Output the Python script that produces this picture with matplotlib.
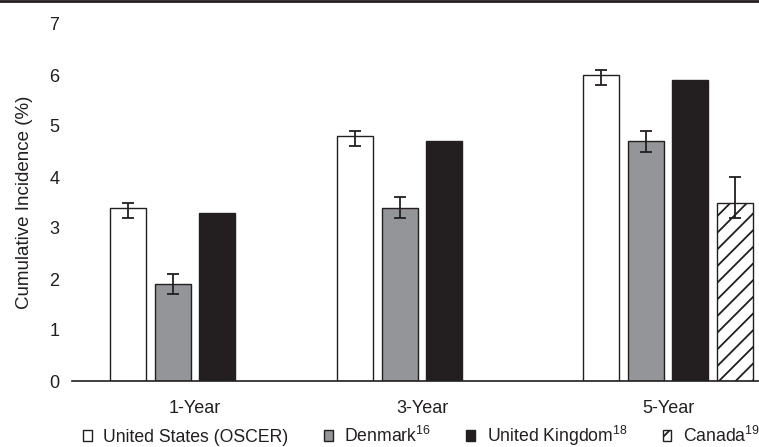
import matplotlib
matplotlib.use("Agg")
import matplotlib.pyplot as plt
import numpy as np
from matplotlib.lines import Line2D

plt.rcParams['font.family'] = ['Liberation Sans', 'DejaVu Sans']
plt.rcParams['mathtext.fontset'] = 'custom'
plt.rcParams['mathtext.rm'] = 'Liberation Sans'
plt.rcParams['hatch.linewidth'] = 1.3
plt.rcParams['hatch.color'] = '#231f20'

# data
periods = ['1-Year', '3-Year', '5-Year']
series = ['United States (OSCER)', r'Denmark$^{\mathrm{16}}$',
          r'United Kingdom$^{\mathrm{18}}$', r'Canada$^{\mathrm{19}}$']
us = [3.4, 4.8, 6.0]
us_lo = [3.2, 4.6, 5.8]
us_hi = [3.5, 4.9, 6.1]
denmark = [1.9, 3.4, 4.7]
denmark_lo = [1.7, 3.2, 4.5]
denmark_hi = [2.1, 3.6, 4.9]
uk = [3.3, 4.7, 5.9]
canada = [np.nan, np.nan, 3.5]
canada_lo = [np.nan, np.nan, 3.2]
canada_hi = [np.nan, np.nan, 4.0]

ink = '#231f20'
fills = ['white', '#939598', ink, 'white']
hatches = [None, None, None, '//']

fig = plt.figure(figsize=(7.59, 4.47), dpi=100)
ax = fig.add_axes([72 / 759, 66 / 447, 1 - 72 / 759, 357 / 447])

# group centres (the source chart spaces the 5-Year group a bit wider)
gx = np.array([0.0, 1.0, 2.084])
pitch = 0.196
width = 0.158

vals = [us, denmark, uk, canada]
los = [us_lo, denmark_lo, None, canada_lo]
his = [us_hi, denmark_hi, None, canada_hi]
handles = []
for i, v in enumerate(vals):
    x = gx + (i - 1.5) * pitch
    v = np.array(v, dtype=float)
    bars = ax.bar(x, v, width, color=fills[i], edgecolor=ink, linewidth=1.0,
                  hatch=hatches[i], zorder=2)
    handles.append(bars)
    if los[i] is not None:
        lo = v - np.array(los[i], dtype=float)
        hi = np.array(his[i], dtype=float) - v
        ax.errorbar(x, v, yerr=[lo, hi], fmt='none', ecolor=ink,
                    elinewidth=1.3, capsize=4, capthick=1.3, zorder=3)

ax.set_ylim(0, 7)
ax.set_xlim(gx[0] - 123 / 227, gx[0] + 687 / 227 - 123 / 227)
ax.set_yticks(range(8))
ax.set_xticks(gx)
ax.set_xticklabels(periods)
ax.tick_params(axis='both', length=0, labelsize=13, colors=ink)
ax.tick_params(axis='y', pad=9)
ax.tick_params(axis='x', pad=14)
for s in ['top', 'right', 'left']:
    ax.spines[s].set_visible(False)
ax.spines['bottom'].set_color(ink)
ax.spines['bottom'].set_linewidth(1.2)
ax.set_ylabel('Cumulative Incidence (%)', fontsize=13.5, color=ink, labelpad=12)

fig.legend(handles, series, loc='center left', bbox_to_anchor=(83 / 759, 11 / 447),
           ncol=4, frameon=False, fontsize=12.7, handlelength=0.5, handleheight=0.55,
           handletextpad=0.65, columnspacing=2.0, borderpad=0, borderaxespad=0,
           labelcolor=ink)

fig.add_artist(Line2D([0, 1], [0.998, 0.998], transform=fig.transFigure,
                      color=ink, linewidth=2))

fig.savefig('out.png', dpi=100)
